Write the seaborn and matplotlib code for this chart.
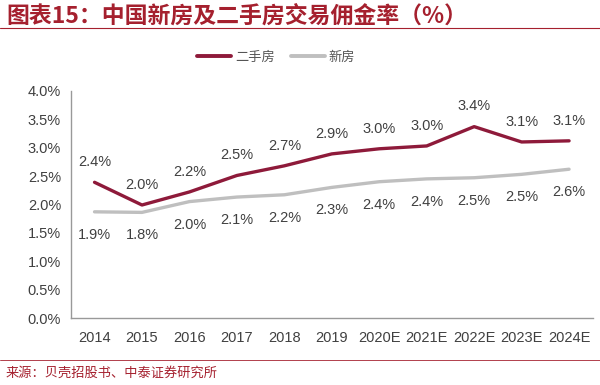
import pandas as pd
import seaborn as sns
import matplotlib.pyplot as plt
from matplotlib.lines import Line2D

years = ['2014', '2015', '2016', '2017', '2018', '2019',
         '2020E', '2021E', '2022E', '2023E', '2024E']
second_hand = [2.39, 1.99, 2.22, 2.51, 2.68, 2.89, 2.98, 3.03, 3.37, 3.10, 3.12]
new_home = [1.87, 1.86, 2.05, 2.13, 2.17, 2.30, 2.40, 2.45, 2.47, 2.53, 2.62]
# labels as printed on the chart
second_hand_lbl = ['2.4%', '2.0%', '2.2%', '2.5%', '2.7%', '2.9%', '3.0%', '3.0%', '3.4%', '3.1%', '3.1%']
new_home_lbl = ['1.9%', '1.8%', '2.0%', '2.1%', '2.2%', '2.3%', '2.4%', '2.4%', '2.5%', '2.5%', '2.6%']
yticks = [0.0, 0.5, 1.0, 1.5, 2.0, 2.5, 3.0, 3.5, 4.0]

red = '#8E1A3A'
grey = '#BFBFBF'
text_col = '#404040'
title_col = '#A5202E'

df = pd.DataFrame({
    'idx': list(range(len(years))) * 2,
    'value': second_hand + new_home,
    'series': ['二手房'] * len(years) + ['新房'] * len(years),
})

sns.set_style('white')
plt.rcParams['font.family'] = ['Liberation Sans', 'Noto Sans CJK SC', 'DejaVu Sans']

fig = plt.figure(figsize=(6, 3.85), dpi=100)
ax = fig.add_axes([0.118, 0.174, 0.87, 0.59])

sns.lineplot(data=df, x='idx', y='value', hue='series',
             palette={'二手房': red, '新房': grey}, linewidth=2.4,
             legend=False, ax=ax)

# data labels: red above, grey below
for i, v in enumerate(second_hand):
    ax.annotate(second_hand_lbl[i], (i, v), xytext=(0, 14.5), textcoords='offset points',
                ha='center', va='center', fontsize=10.5, color=text_col)
for i, v in enumerate(new_home):
    ax.annotate(new_home_lbl[i], (i, v), xytext=(0, -16.5), textcoords='offset points',
                ha='center', va='center', fontsize=10.5, color=text_col)

ax.set_xlim(-0.5, len(years) - 0.5)
ax.set_ylim(0, 4.0)
ax.set_yticks(yticks)
ax.set_yticklabels([f'{t:.1f}%' for t in yticks])
ax.set_xticks(range(len(years)))
ax.set_xticklabels(years)
ax.set_xticks([i - 0.5 for i in range(len(years) + 1)], minor=True)
ax.tick_params(axis='x', which='major', length=0, pad=9, labelsize=10.5, colors=text_col)
ax.tick_params(axis='x', which='minor', length=4, color='#999999', width=1, direction='out')
ax.tick_params(axis='y', length=4, color='#999999', width=1, labelsize=10.5,
               colors=text_col, direction='out', pad=3)
ax.set_xlabel('')
ax.set_ylabel('')
for s in ['top', 'right']:
    ax.spines[s].set_visible(False)
for s in ['left', 'bottom']:
    ax.spines[s].set_color('#999999')
    ax.spines[s].set_linewidth(1)

# legend
handles = [Line2D([], [], color=red, lw=2.8), Line2D([], [], color=grey, lw=2.8)]
fig.legend(handles, ['二手房', '新房'], loc='center', bbox_to_anchor=(0.46, 0.852),
           ncol=2, frameon=False, handlelength=2.6, columnspacing=1.2,
           handletextpad=0.3, labelcolor='#555555',
           prop={'family': 'Noto Sans CJK SC', 'size': 9.5})

# title and source
fig.text(0.01, 0.958, '图表15：中国新房及二手房交易佣金率（%）', fontsize=16.5,
         fontweight='bold', style='italic', color=title_col,
         family=['Noto Sans CJK SC', 'DejaVu Sans'], va='center')
fig.add_artist(Line2D([0, 1], [0.928, 0.928], color=title_col, lw=0.8))
fig.add_artist(Line2D([0, 1], [0.065, 0.065], color=title_col, lw=0.6))
fig.text(0.01, 0.03, '来源：贝壳招股书、中泰证券研究所', fontsize=9.5, color=title_col,
         family=['Noto Sans CJK SC', 'DejaVu Sans'], va='center')

fig.savefig('out.png', dpi=100)
